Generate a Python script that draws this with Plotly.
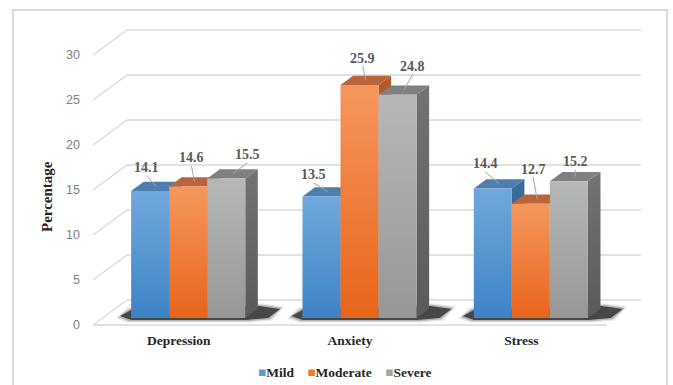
import plotly.graph_objects as go

# ---- data ----
categories = ["Depression", "Anxiety", "Stress"]
series_names = ["Mild", "Moderate", "Severe"]
mild = [14.1, 13.5, 14.4]
moderate = [14.6, 25.9, 12.7]
severe = [15.5, 24.8, 15.2]
y_ticks = [0, 5, 10, 15, 20, 25, 30]

series_values = [mild, moderate, severe]

# ---- styling ----
W, H = 673, 385
PX_PER_CAT = 171.33          # horizontal pixels per category step
PX_PER_VAL = 9.0             # vertical pixels per percentage point
DX = 34 / PX_PER_CAT         # back-wall offset (x, category units)
DY = 25 / PX_PER_VAL         # back-wall offset (y, value units)
F1, F2 = 0.28, 0.65          # depth fraction of bar front / back faces
BAR_W = 0.222
GROUP_LEFT = -0.333

PLOT_LEFT, PLOT_TOP, PLOT_BOTTOM = 93, 15, 328
ZERO_PX = 325                # pixel row of the front zero line

# colours per series: front (bottom, top), top face, side (bottom, top), legend swatch
palette = {
    "Mild": dict(front=("#3d84c6", "#70a8dc"), top="#4e7eae", side=("#2e5a85", "#3c6d9c"), key="#5b9bd5"),
    "Moderate": dict(front=("#e8641a", "#f5975e"), top="#b9643a", side=("#9a4a1c", "#b35b2a"), key="#ed7d31"),
    "Severe": dict(front=("#979797", "#b6b7b7"), top="#808080", side=("#5a5a5a", "#737373"), key="#a5a5a5"),
}

# data-label nudges in pixels relative to the top-face centre
label_nudge = {
    "Mild": [(-10, -19), (-14, -17), (-14, -20)],
    "Moderate": [(-3, -24), (-3, -22), (-4, -30)],
    "Severe": [(15, -19), (9, -24), (0, -15)],
}

# floor-shadow outline, pixel offsets from a group's front-left foot
shadow_outline = [(-11, -2), (0, -8), (128, -12), (149, -9), (137, 0), (115, 2), (0, 2)]

GRID = "#d9d9d9"
SERIF = "Liberation Serif"


def proj(x, v, d):
    """Project a point at depth fraction d onto the front plane."""
    return x + d * DX, v + d * DY


def poly(points, **kw):
    xs = [p[0] for p in points] + [points[0][0]]
    ys = [p[1] for p in points] + [points[0][1]]
    return go.Scatter(x=xs, y=ys, mode="lines", fill="toself",
                      line=dict(width=0, color="rgba(0,0,0,0)"),
                      hoverinfo="skip", showlegend=False, **kw)


fig = go.Figure()
shapes = []
annotations = []

# back wall grid, left-side diagonals and floor
x0, x1 = -0.5, 2.5
for t in y_ticks:
    shapes.append(dict(type="line", xref="x", yref="y", x0=x0 + DX, x1=x1 + DX,
                       y0=t + DY, y1=t + DY, line=dict(color=GRID, width=1.3), layer="below"))
    shapes.append(dict(type="line", xref="x", yref="y", x0=x0, x1=x0 + DX,
                       y0=t, y1=t + DY, line=dict(color=GRID, width=1.3), layer="below"))
shapes.append(dict(type="line", xref="x", yref="y", x0=x0, x1=x1, y0=0, y1=0,
                   line=dict(color=GRID, width=1.3), layer="below"))

# soft floor shadows behind each group
for ci in range(len(categories)):
    fx, fy = proj(ci + GROUP_LEFT, 0, F1)
    pts_px = shadow_outline
    cx = sum(p[0] for p in pts_px) / len(pts_px)
    cy = sum(p[1] for p in pts_px) / len(pts_px)
    for grow, alpha in [(4, 0.10), (2, 0.22), (0, 0.6)]:
        pts = []
        for px, py in pts_px:
            ex = px + (grow if px > cx else -grow)
            ey = py + (grow * 0.6 if py > cy else -grow * 0.6)
            pts.append((fx + ex / PX_PER_CAT, fy - ey / PX_PER_VAL))
        fig.add_trace(poly(pts, fillcolor=f"rgba(0,0,0,{alpha})"))

# bars: side, top, front for each series, left to right inside a group
for ci in range(len(categories)):
    for si, name in enumerate(series_names):
        v = series_values[si][ci]
        c = palette[name]
        L = ci + GROUP_LEFT + si * BAR_W
        R = L + BAR_W
        side = [proj(R, 0, F1), proj(R, 0, F2), proj(R, v, F2), proj(R, v, F1)]
        fig.add_trace(poly(side, fillgradient=dict(
            type="vertical", colorscale=[[0, c["side"][0]], [1, c["side"][1]]])))
        top = [proj(L, v, F1), proj(R, v, F1), proj(R, v, F2), proj(L, v, F2)]
        fig.add_trace(poly(top, fillcolor=c["top"]))
        front = [proj(L, 0, F1), proj(R, 0, F1), proj(R, v, F1), proj(L, v, F1)]
        fig.add_trace(poly(front, fillgradient=dict(
            type="vertical", colorscale=[[0, c["front"][0]], [1, c["front"][1]]])))

        # value label with leader line
        tcx, tcy = proj((L + R) / 2, v, (F1 + F2) / 2)
        nx, ny = label_nudge[name][ci]
        lx = tcx + nx / PX_PER_CAT
        ly = tcy - ny / PX_PER_VAL
        annotations.append(dict(x=lx, y=ly, xref="x", yref="y", text=f"{v}",
                                showarrow=False, xanchor="center", yanchor="middle",
                                font=dict(family=SERIF, size=14, color="#595959", weight="bold")))
        shapes.append(dict(type="line", xref="x", yref="y", x0=tcx, y0=tcy,
                           x1=lx, y1=ly - 8 / PX_PER_VAL,
                           line=dict(color="#a6a6a6", width=1)))

plot_w = (x1 + DX - x0) * PX_PER_CAT
plot_h = PLOT_BOTTOM - PLOT_TOP


def paper_x(px):
    return (px - PLOT_LEFT) / plot_w


def paper_y(py):
    return (PLOT_BOTTOM - py) / plot_h


# legend row
legend_text = "&nbsp;&nbsp;&nbsp;&nbsp;".join(
    f"<span style='color:{palette[n]['key']}'>■</span>{n}" for n in series_names)
annotations.append(dict(x=paper_x(344), y=paper_y(372), xref="paper", yref="paper",
                        xanchor="center", yanchor="middle", text=legend_text, showarrow=False,
                        font=dict(family=SERIF, size=13.5, color="#262626", weight="bold")))

# vertical axis title
annotations.append(dict(x=paper_x(47), y=paper_y(196), xref="paper", yref="paper",
                        xanchor="center", yanchor="middle", text="Percentage", textangle=-90,
                        showarrow=False,
                        font=dict(family=SERIF, size=15, color="#262626", weight="bold")))

# outer chart border
shapes.append(dict(type="rect", xref="paper", yref="paper",
                   x0=paper_x(13), x1=paper_x(667), y0=paper_y(400), y1=paper_y(10),
                   line=dict(color="#d9d9d9", width=2), layer="below"))

y_lo = (ZERO_PX - PLOT_BOTTOM) / PX_PER_VAL
y_hi = (ZERO_PX - PLOT_TOP) / PX_PER_VAL

fig.update_layout(
    width=W, height=H,
    margin=dict(l=PLOT_LEFT, r=W - PLOT_LEFT - plot_w, t=PLOT_TOP, b=H - PLOT_BOTTOM, pad=0),
    paper_bgcolor="white", plot_bgcolor="white",
    showlegend=False,
    shapes=shapes, annotations=annotations,
    xaxis=dict(range=[x0, x1 + DX], tickvals=list(range(len(categories))), ticktext=categories,
               showgrid=False, zeroline=False, showline=False, ticks="", ticklabelstandoff=2,
               tickfont=dict(family=SERIF, size=13.5, color="#262626", weight="bold"),
               fixedrange=True),
    yaxis=dict(range=[y_lo, y_hi], tickvals=y_ticks, showgrid=False, zeroline=False,
               showline=False, ticks="", ticklabelstandoff=12,
               tickfont=dict(family="Liberation Sans", size=12.5, color="#7f7f7f"),
               fixedrange=True),
)

fig.write_html("out.html")
